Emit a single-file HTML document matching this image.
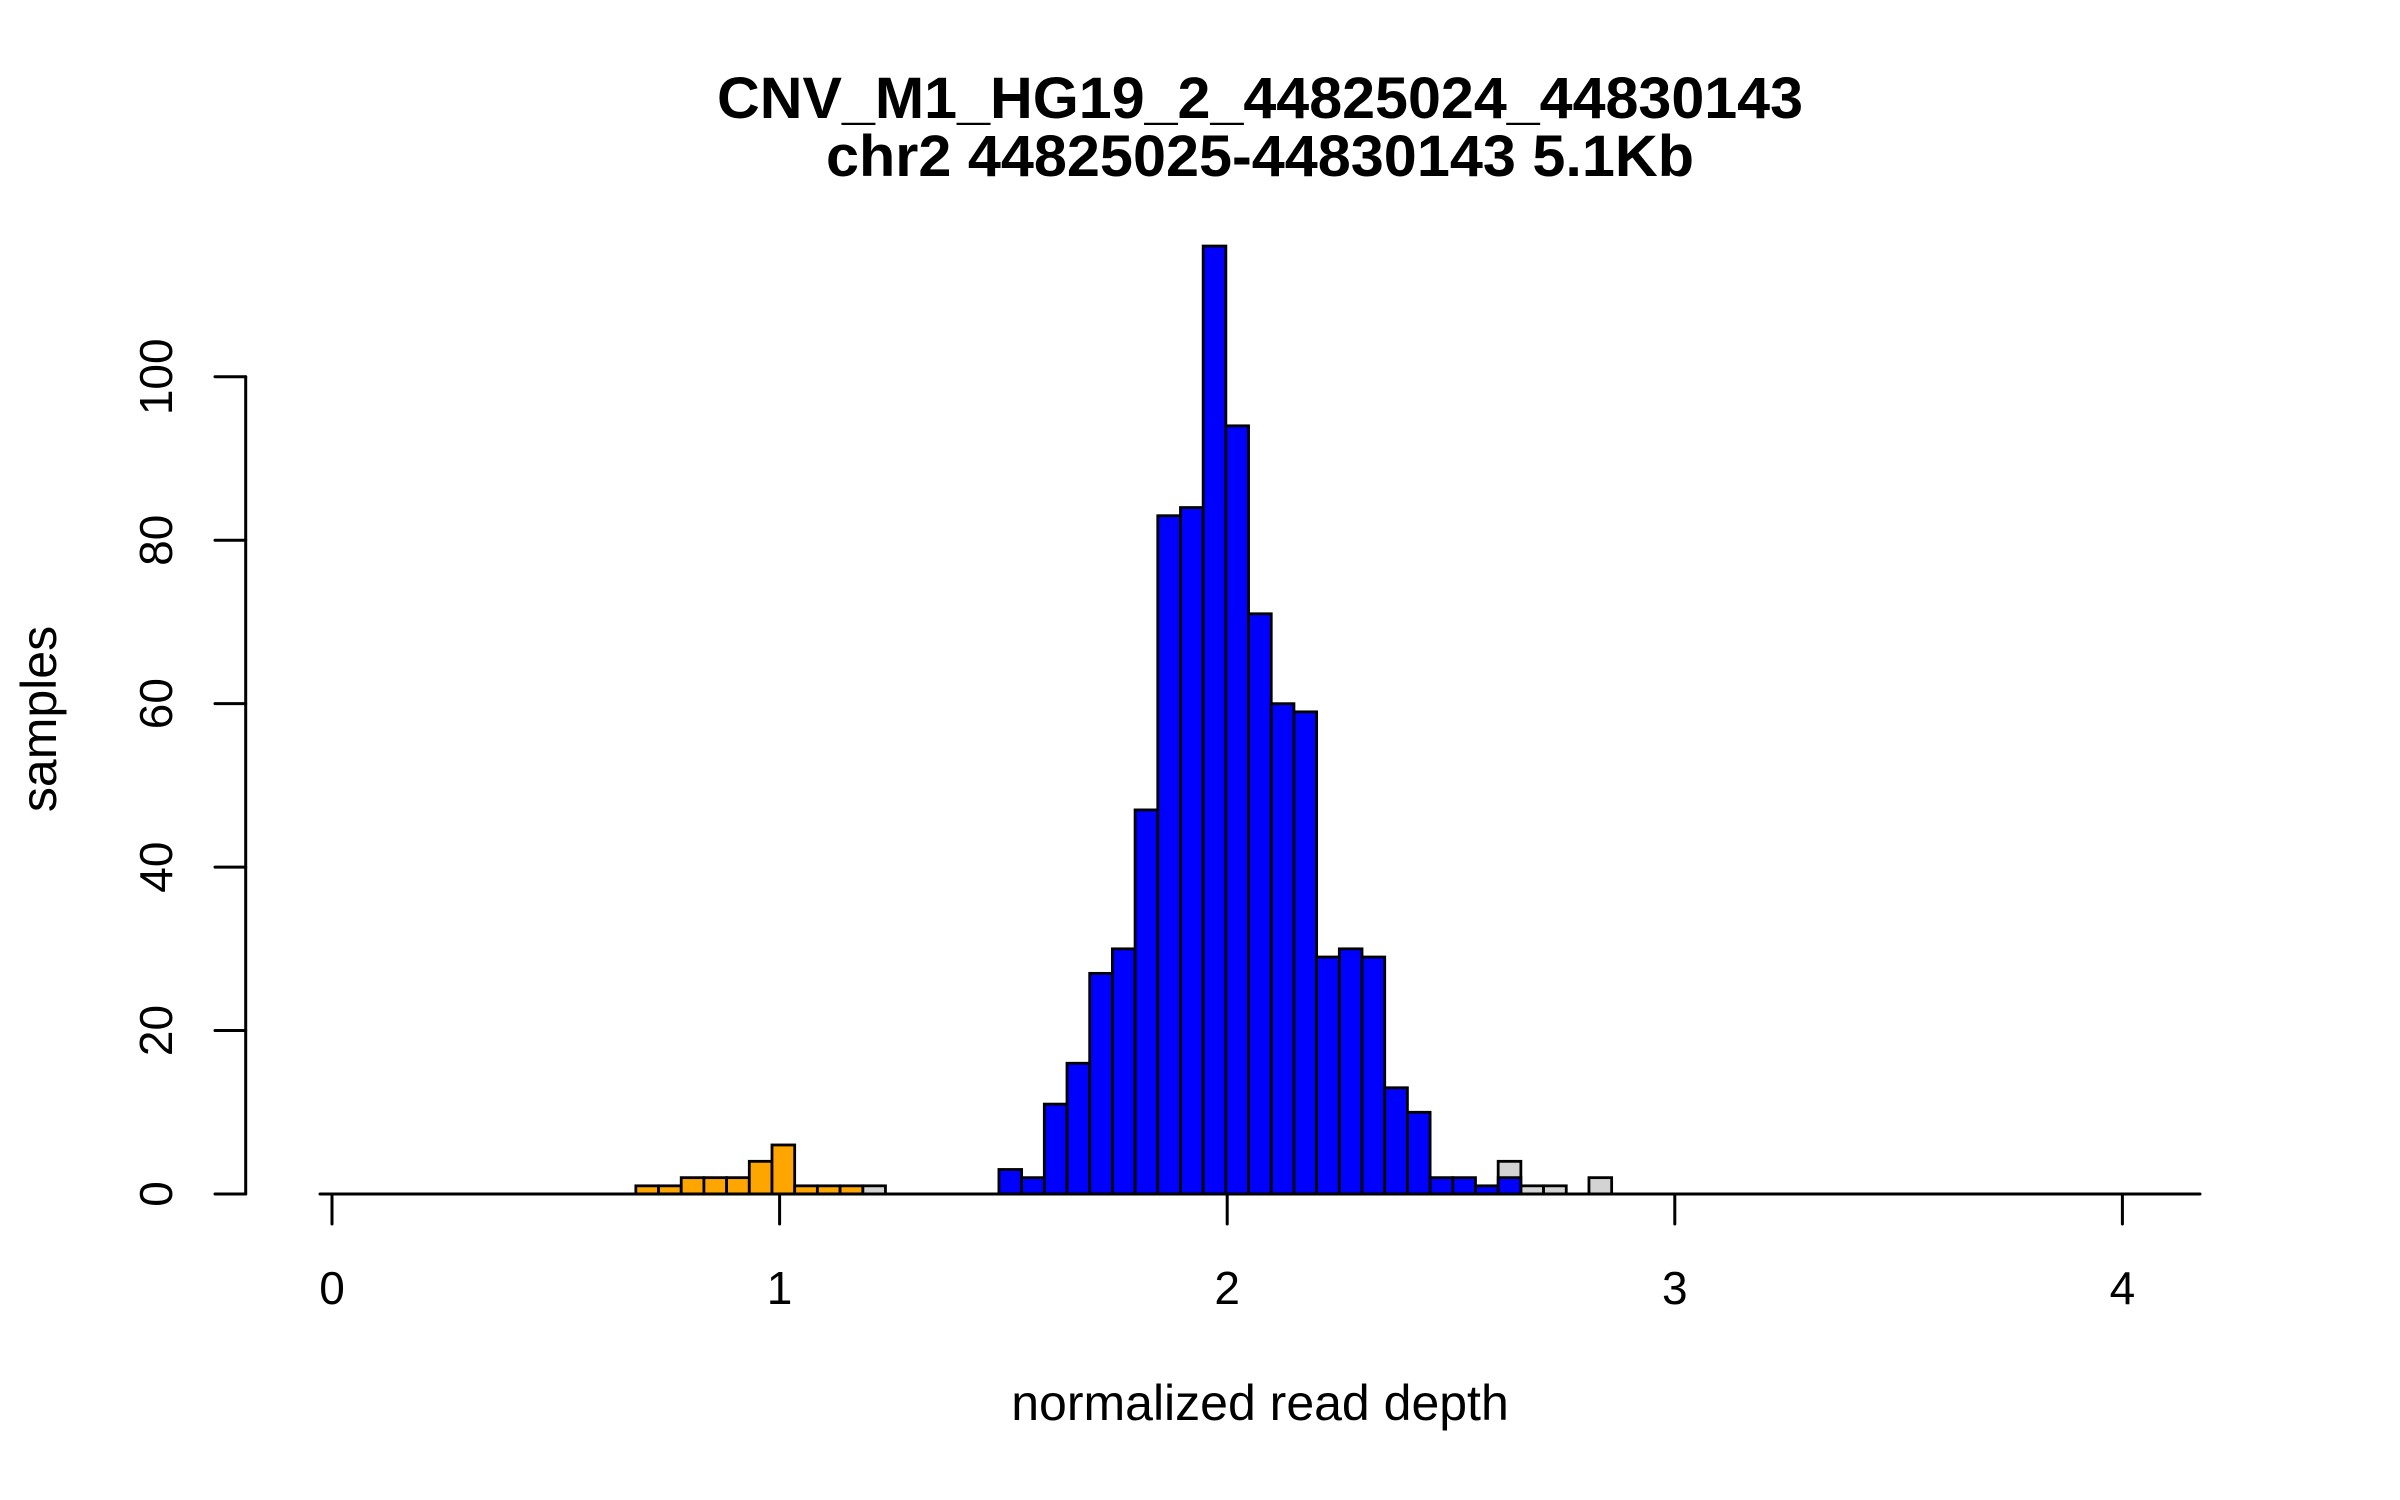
<!DOCTYPE html>
<html><head><meta charset="utf-8"><style>
html,body{margin:0;padding:0;background:#fff;}
svg{display:block;font-family:"Liberation Sans",sans-serif;}
</style></head><body>
<svg id="chart" width="2400" height="1500" viewBox="0 0 2400 1500" xmlns="http://www.w3.org/2000/svg">
<text x="1260" y="118" text-anchor="middle" font-size="58" font-weight="bold" textLength="1086" lengthAdjust="spacingAndGlyphs">CNV_M1_HG19_2_44825024_44830143</text>
<text x="1260" y="176" text-anchor="middle" font-size="58" font-weight="bold" textLength="868" lengthAdjust="spacingAndGlyphs">chr2 44825025-44830143 5.1Kb</text>
<g id="bars"></g>
<g id="axes"></g>
<text x="1260" y="1420" text-anchor="middle" font-size="50">normalized read depth</text>
<text x="0" y="0" transform="translate(56,719) rotate(-90)" text-anchor="middle" font-size="50">samples</text>
</svg>
<script>
const orangeCounts = [1,1,2,2,2,4,6,1,1,1];
const orangeStartBin = -16;
const greyCounts = [[-6,1],[22,4],[23,1],[24,1],[26,2]];
const blueCounts = [3,2,11,16,27,30,47,83,84,116,94,71,60,59,29,30,29,13,10,2,2,1,2];
const blueStart = 1.490;
const binWidth = 0.0507;
const xTicks = [0,1,2,3,4];
const yTicks = [0,20,40,60,80,100];

const X0=332, XU=447.6, Y0=1194, YU=8.172;
const sx = v => X0 + v*XU;
const sy = v => Y0 - v*YU;
const NS="http://www.w3.org/2000/svg";
const bars=document.getElementById('bars');
const axes=document.getElementById('axes');
function bar(bin,count,fill,name){
  const r=document.createElementNS(NS,'rect');
  const x1=sx(blueStart+bin*binWidth), x2=sx(blueStart+(bin+1)*binWidth);
  r.setAttribute('x',x1);r.setAttribute('width',x2-x1);
  r.setAttribute('y',sy(count));r.setAttribute('height',sy(0)-sy(count));
  r.setAttribute('fill',fill);r.setAttribute('stroke','#000');r.setAttribute('stroke-width','2.8');
  
  
  bars.appendChild(r);
}
greyCounts.forEach(g=>bar(g[0],g[1],'#d3d3d3','bar-grey'));
orangeCounts.forEach((c,i)=>bar(orangeStartBin+i,c,'#ffa500','bar-orange'));
blueCounts.forEach((c,i)=>bar(i,c,'#0000ff','bar-blue'));
function line(x1,y1,x2,y2,name){
  const l=document.createElementNS(NS,'line');
  l.setAttribute('x1',x1);l.setAttribute('y1',y1);l.setAttribute('x2',x2);l.setAttribute('y2',y2);
  l.setAttribute('stroke','#000');l.setAttribute('stroke-width','3');l.setAttribute('stroke-linecap','round');
  
  
  axes.appendChild(l);
}
function text(x,y,s,tr,name){
  const t=document.createElementNS(NS,'text');
  t.setAttribute('x',x);t.setAttribute('y',y);t.setAttribute('text-anchor','middle');t.setAttribute('font-size','46');
  if(tr) t.setAttribute('transform',tr);
  t.textContent=s;
  
  
  axes.appendChild(t);
}
line(320,Y0,2200,Y0,'x-axis-line');
xTicks.forEach(v=>{line(sx(v),Y0,sx(v),1224,'x-tick');text(sx(v),1304,String(v),null,'x-tick-label');});
line(245.7,sy(0),245.7,sy(100),'y-axis-line');
yTicks.forEach(v=>{line(215,sy(v),245.7,sy(v),'y-tick');text(0,0,String(v),'translate(172,'+sy(v)+') rotate(-90)','y-tick-label');});
</script>
</body></html>
